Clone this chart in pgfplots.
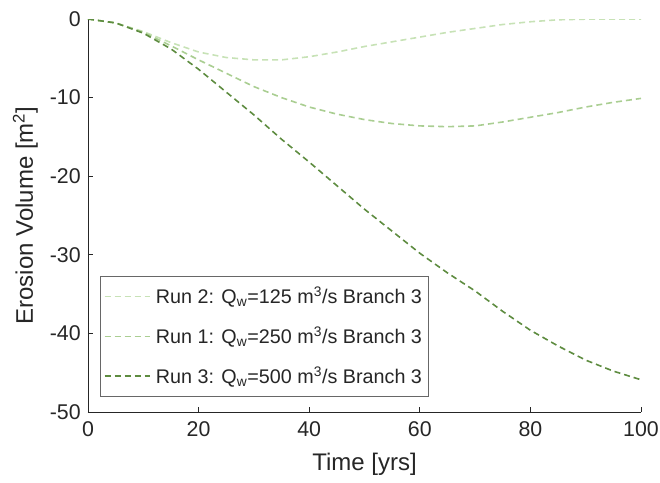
\documentclass[border=0pt]{standalone}
\usepackage{fontspec}
\setmainfont{Liberation Sans}
\usepackage{pgfplots}
\pgfplotsset{compat=1.18}
\definecolor{axgray}{RGB}{38,38,38}
\definecolor{runA}{RGB}{199,226,182}
\definecolor{runB}{RGB}{170,206,146}
\definecolor{runC}{RGB}{94,140,64}
\begin{document}
\begin{tikzpicture}
\begin{axis}[
  scale only axis,
  width=414.75pt, height=294.75pt,
  xmin=0, xmax=100, ymin=-50, ymax=0,
  xtick={0,20,...,100}, ytick={-50,-40,...,0},
  axis x line*=bottom, axis y line*=left,
  axis line style={axgray, line width=0.6pt},
  tick style={axgray, line width=0.6pt},
  tick align=inside, major tick length=4pt,
  /pgf/number format/assume math mode=true,
  ticklabel style={font=\fontsize{16}{18}\selectfont, text=axgray},
  xticklabel style={yshift=-4pt},
  yticklabel style={xshift=-2pt},
  xlabel={Time [yrs]}, ylabel={Erosion Volume [m\textsuperscript{2}]},
  label style={font=\fontsize{18}{21}\selectfont, text=axgray},
  xlabel style={yshift=-5pt},
  ylabel style={yshift=2pt},
  legend style={at={(0.0217,0.346)}, anchor=north west, draw=axgray!70, line width=0.6pt,
    font=\fontsize{14.8}{17}\selectfont, text=axgray, row sep=12pt, inner xsep=2.5pt, inner ysep=6pt},
  legend cell align=left,
  legend image code/.code={\draw[#1] (0pt,0pt) -- (34pt,0pt);},
  every axis plot/.append style={line width=1.2pt, dash pattern=on 4.5pt off 3pt},
]
\addplot[runA] coordinates {(0,0)(5,-0.5)(10,-1.6)(15,-3.0)(20,-4.2)(25,-4.9)(30,-5.2)(35,-5.2)(40,-4.8)(45,-4.2)(50,-3.5)(55,-2.9)(60,-2.3)(65,-1.7)(70,-1.2)(75,-0.7)(80,-0.35)(85,-0.1)(90,-0.02)(95,0)(100,0)};
\addlegendentry{\hspace{2pt}Run 2: Q\textsubscript{w}=125 m\textsuperscript{3}/s Branch 3}
\addplot[runB] coordinates {(0,0)(5,-0.5)(10,-1.7)(15,-3.4)(20,-5.2)(25,-6.9)(30,-8.6)(35,-10.0)(40,-11.2)(45,-12.1)(50,-12.8)(55,-13.3)(60,-13.6)(65,-13.7)(70,-13.6)(75,-13.1)(80,-12.5)(85,-11.9)(90,-11.2)(95,-10.6)(100,-10.1)};
\addlegendentry{\hspace{2pt}Run 1: Q\textsubscript{w}=250 m\textsuperscript{3}/s Branch 3}
\addplot[runC] coordinates {(0,0)(5,-0.5)(10,-1.8)(15,-3.8)(20,-6.4)(25,-9.3)(30,-12.2)(35,-15.3)(40,-18.2)(45,-21.2)(50,-24.2)(55,-27.0)(60,-29.8)(65,-32.3)(70,-34.6)(75,-37.2)(80,-39.6)(85,-41.6)(90,-43.4)(95,-44.8)(100,-45.9)};
\addlegendentry{\hspace{2pt}Run 3: Q\textsubscript{w}=500 m\textsuperscript{3}/s Branch 3}
\end{axis}
\pgfresetboundingbox
\path ([shift={(-66pt,-52.5pt)}]current axis.south west) rectangle ([shift={(14.25pt,14.25pt)}]current axis.north east);
\end{tikzpicture}
\end{document}
